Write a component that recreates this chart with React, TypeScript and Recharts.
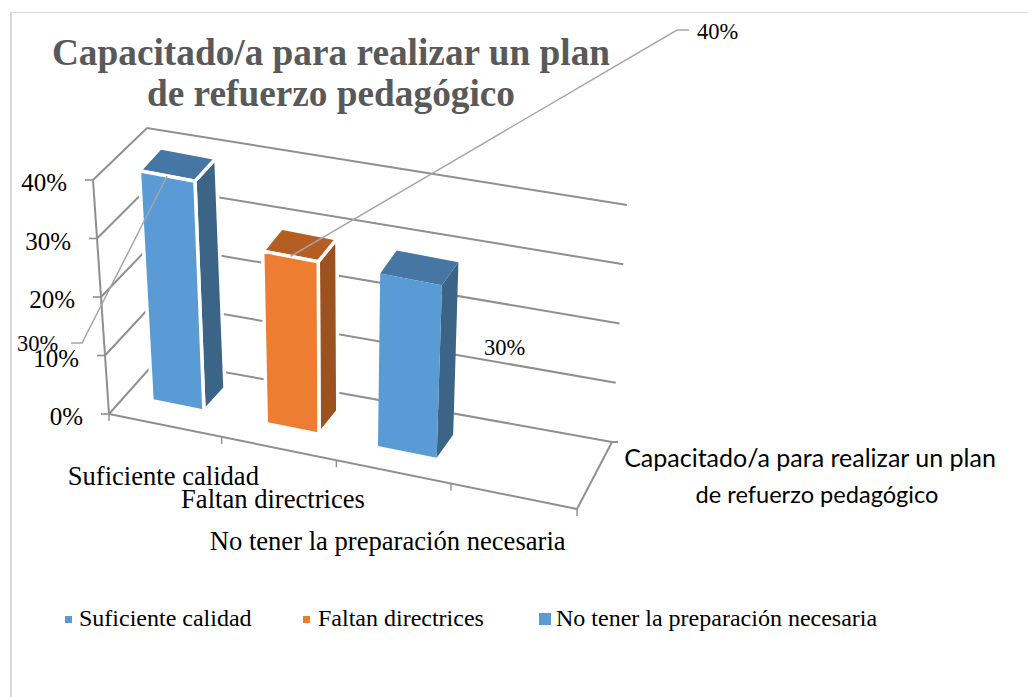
import { BarChart, Bar, XAxis, YAxis, Legend, CartesianGrid } from "recharts";

const categories = [
  "Suficiente calidad",
  "Faltan directrices",
  "No tener la preparación necesaria",
];
const values = [40, 30, 30];
const dataLabels = ["30%", "40%", "30%"];
const yTicks = [0, 10, 20, 30, 40];
const titleLines = ["Capacitado/a para realizar un plan", "de refuerzo pedagógico"];
const depthLabelLines = ["Capacitado/a para realizar un plan", "de refuerzo pedagógico"];

const rows = categories.map((name, i) => ({ name, value: values[i] }));

const SERIF = "'Liberation Serif', serif";
const GRID = "#8f8f8f";
const LEADER = "#a6a6a6";
const FACES = [
  { front: "#5b9bd5", side: "#3b6487", top: "#4676a3" },
  { front: "#ed7d31", side: "#9c521f", top: "#b55e24" },
  { front: "#5b9bd5", side: "#3b6487", top: "#4676a3" },
];

// plot box of the flat chart, the 3D look is a projection of it
const LEFT = 109;
const RIGHT = 577;
const TOP = 180;
const BOTTOM = 414;
const SPAN = BOTTOM - TOP;
const RIGHT_PAD = 124;

const lerp = (a: number, b: number, t: number) => a + (b - a) * t;

// bar front plane
function project(px: number, py: number) {
  const bx = px + 12;
  const v = (BOTTOM - py) * 0.983;
  const lean = (bx - 335) * 0.0003;
  return { x: bx + lean * v, y: 401 + (bx - 153) * 0.2 - v };
}

const poly = (pts: { x: number; y: number }[]) =>
  pts.map((p) => `${p.x},${p.y}`).join(" ");

function Bar3D(props: any) {
  const { x, y, width, height, index } = props;
  const c = FACES[index];
  const cx = x + width / 2;
  const w = width * (1 + 0.13 * Math.pow((cx - 166) / 230, 3));
  const l = cx - w / 2;
  const r = cx + w / 2;
  const base = y + height;
  const tl = project(l, y);
  const tr = project(r, y);
  const br = project(r, base);
  const bl = project(l, base);
  const dx = 21 - (l - 140) * 0.02;
  const back = (p: { x: number; y: number }) => ({ x: p.x + dx, y: p.y - 23 });
  const stroke = index < 2 ? "#fff" : "none";
  const mid = { x: (tl.x + tr.x) / 2, y: (tl.y + tr.y) / 2 };
  return (
    <g>
      <polygon points={poly([tr, back(tr), back(br), br])} fill={c.side} stroke={stroke} strokeWidth={3.5} />
      <polygon points={poly([tl, back(tl), back(tr), tr])} fill={c.top} stroke={stroke} strokeWidth={3.5} />
      <polygon points={poly([tl, tr, br, bl])} fill={c.front} stroke={stroke} strokeWidth={3.5} />
      {index === 0 && (
        <>
          <polyline
            points={`71,343 82,343 ${mid.x},${mid.y}`}
            fill="none"
            stroke={LEADER}
            strokeWidth={1.5}
          />
          <text x={17} y={351} fontFamily={SERIF} fontSize={22.5} fill="#000">
            {dataLabels[0]}
          </text>
        </>
      )}
      {index === 1 && (
        <>
          <polyline
            points={`689,30 677,30 ${mid.x},${mid.y}`}
            fill="none"
            stroke={LEADER}
            strokeWidth={1.5}
          />
          <text x={697} y={39} fontFamily={SERIF} fontSize={22.5} fill="#000">
            {dataLabels[1]}
          </text>
        </>
      )}
      {index === 2 && (
        <text x={484} y={355} fontFamily={SERIF} fontSize={22.5} fill="#000">
          {dataLabels[2]}
        </text>
      )}
    </g>
  );
}

// one grid line per value tick, folded over the side wall and the back wall
function WallLine(props: any) {
  const y = props.y1;
  const v = BOTTOM - y;
  const t = v / SPAN;
  const fx = LEFT - 0.0684 * v;
  const backLeft = { x: lerp(157, 147, t), y: lerp(360, 128, t) };
  const backRight = { x: lerp(612, 627, t), y: lerp(442, 205, t) };
  return (
    <polyline
      key={y}
      points={`${fx},${y} ${backLeft.x},${backLeft.y} ${backRight.x},${backRight.y}`}
      fill="none"
      stroke={GRID}
      strokeWidth={2}
    />
  );
}

function WallTick(props: any) {
  const { y, payload } = props;
  const fx = LEFT - 0.0684 * (BOTTOM - y);
  return (
    <g>
      <line x1={fx - 8} y1={y} x2={fx} y2={y} stroke={GRID} strokeWidth={1.6} />
      <text
        x={fx - 26}
        y={y + 11}
        textAnchor="end"
        fontFamily={SERIF}
        fontSize={25}
        fill="#000"
      >
        {`${payload.value}%`}
      </text>
    </g>
  );
}

const LABEL_SHIFT = [
  { dx: -3, y: 485 },
  { dx: -8, y: 508 },
  { dx: -8, y: 550 },
];

function FloorTick(props: any) {
  const { x, payload, index } = props;
  const band = (RIGHT - LEFT - RIGHT_PAD) / categories.length;
  const edge = x + band / 2 - 2;
  const ey = BOTTOM + (edge - LEFT) * 0.203;
  const s = LABEL_SHIFT[index];
  return (
    <g>
      <line x1={edge} y1={ey} x2={edge} y2={ey + 7} stroke={GRID} strokeWidth={1.4} />
      <text x={x + s.dx} y={s.y} textAnchor="middle" fontFamily={SERIF} fontSize={26.6} fill="#000">
        {payload.value}
      </text>
    </g>
  );
}

function Floor() {
  return (
    <g fill="none" stroke={GRID} strokeWidth={2}>
      <polyline points={`${LEFT},${BOTTOM} ${RIGHT},509 612,442 618,442`} />
      <line x1={LEFT} y1={BOTTOM} x2={93} y2={TOP} />
      <line x1={LEFT} y1={BOTTOM} x2={LEFT} y2={BOTTOM + 7} strokeWidth={1.4} />
      <line x1={RIGHT} y1={509} x2={RIGHT} y2={516} strokeWidth={1.4} />
    </g>
  );
}

const LEGEND_ITEMS = [
  { marker: 65, size: 7, text: 79 },
  { marker: 303, size: 7, text: 318 },
  { marker: 539, size: 12, text: 556 },
];

function LegendRow() {
  return (
    <div style={{ position: "relative", width: 1028, height: 30 }}>
      {categories.map((name, i) => {
        const m = LEGEND_ITEMS[i];
        return (
          <div key={name}>
            <span
              style={{
                position: "absolute",
                left: m.marker,
                top: 15 - m.size / 2,
                width: m.size,
                height: m.size,
                background: FACES[i].front,
              }}
            />
            <span
              style={{
                position: "absolute",
                left: m.text,
                top: 1,
                fontFamily: SERIF,
                fontSize: 24,
                lineHeight: "26px",
                color: "#000",
                whiteSpace: "nowrap",
              }}
            >
              {name}
            </span>
          </div>
        );
      })}
    </div>
  );
}

export default function App() {
  return (
    <div style={{ position: "absolute", left: 0, top: 0, width: 1028, height: 697, overflow: "hidden", background: "#fff" }}>
      <div
        style={{
          position: "absolute",
          left: 10,
          top: 12,
          right: 0,
          bottom: 0,
          borderLeft: "2px solid #d9d9d9",
          borderTop: "1.5px solid #d9d9d9",
        }}
      />
      <BarChart
        width={1028}
        height={697}
        data={rows}
        margin={{ left: LEFT - 1, right: 1028 - RIGHT, top: TOP, bottom: 697 - BOTTOM - 1 }}
        style={{ position: "absolute", left: 0, top: 0 }}
      >
        <text x={331} y={65} textAnchor="middle" fontFamily={SERIF} fontWeight="bold" fontSize={37.3} fill="#595959">
          {titleLines[0]}
        </text>
        <text x={331} y={106} textAnchor="middle" fontFamily={SERIF} fontWeight="bold" fontSize={37.3} fill="#595959">
          {titleLines[1]}
        </text>
        <CartesianGrid vertical={false} horizontal={(p: any) => <WallLine {...p} />} />
        <XAxis
          dataKey="name"
          height={1}
          interval={0}
          axisLine={false}
          tickLine={false}
          padding={{ left: 0, right: RIGHT_PAD }}
          tick={<FloorTick />}
        />
        <YAxis
          width={1}
          domain={[0, 40]}
          ticks={yTicks}
          interval={0}
          axisLine={false}
          tickLine={false}
          tick={<WallTick />}
        />
        <Floor />
        <Bar dataKey="value" barSize={52} isAnimationActive={false} shape={(p: any) => <Bar3D {...p} />} />
        <text x={810} y={467} textAnchor="middle" fontFamily="Lato, sans-serif" fontSize={25} fill="#000">
          {depthLabelLines[0]}
        </text>
        <text x={817} y={503} textAnchor="middle" fontFamily="Lato, sans-serif" fontSize={23.6} fill="#000">
          {depthLabelLines[1]}
        </text>
        <Legend
          content={<LegendRow />}
          verticalAlign="middle"
          wrapperStyle={{ position: "absolute", left: 0, top: 604, width: 1028, bottom: "auto" }}
        />
      </BarChart>
    </div>
  );
}
